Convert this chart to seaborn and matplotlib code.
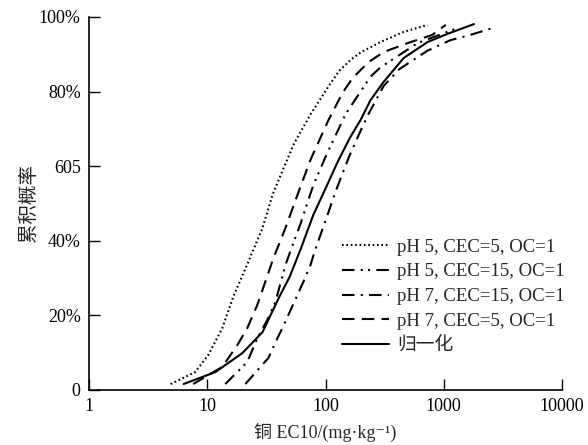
import matplotlib
matplotlib.use("Agg")
import matplotlib.pyplot as plt
import seaborn as sns
import pandas as pd

# values (x = Cu EC10 mg/kg, y = cumulative %)
dotted_x = [4.9, 7.9, 10.2, 13.4, 16.6, 22.2, 29.3, 35.6, 47, 54, 75, 104, 130, 163, 198, 292, 458, 731]
dotted_y = [1.6, 4.8, 9.4, 16.6, 25, 34.3, 43.4, 52.3, 61.5, 66, 74, 81, 85.5, 88.5, 90.5, 93.3, 96, 97.9]

ph5_cec15_x = [14.2, 21.8, 26.5, 32.2, 37.7, 45.8, 53.6, 61.4, 70, 79, 100, 148, 240, 292, 600, 1300]
ph5_cec15_y = [1.6, 7.5, 13.9, 18.8, 23.6, 33.5, 39.5, 44.5, 50, 55, 62.5, 74, 84, 86.5, 93, 97]

ph7_cec15_x = [21, 32.9, 39.2, 43.2, 57.9, 65, 74.6, 82, 94, 106, 121, 139, 158, 198, 231, 310, 420, 731, 1140, 1600, 2760]
ph7_cec15_y = [1.6, 8.6, 13.9, 16.6, 25.5, 29, 33.5, 37.7, 43, 47.7, 53, 58, 62.5, 69.5, 74, 81.5, 86, 91, 93.8, 95, 97.3]

ph7_cec5_x = [7.6, 13.4, 18, 21.8, 26.5, 36.3, 45.8, 57.9, 74.6, 106, 139, 169, 231, 310, 496, 800, 1040]
ph7_cec5_y = [1.6, 6.2, 12.1, 16.6, 22.8, 35.4, 43.4, 52.3, 61.7, 72.4, 79.6, 83.6, 87.9, 90.6, 93, 95.2, 97.9]

norm_x = [6.3, 11.7, 19.8, 29.3, 40, 50, 62, 79, 100, 126, 160, 198, 240, 310, 458, 731, 1080, 1800]
norm_y = [1.6, 4.8, 9.9, 15.5, 24.5, 30.5, 38, 47, 54, 61, 67.5, 72.4, 77.7, 82.6, 89, 93.3, 95.5, 98.1]

labels = ["pH 5, CEC=5, OC=1", "pH 5, CEC=15, OC=1", "pH 7, CEC=15, OC=1",
          "pH 7, CEC=5, OC=1", "归一化"]
xticks = [1, 10, 100, 1000, 10000]
xtick_labels = ["1", "10", "100", "1000", "10000"]
yticks = [0, 20, 40, 60, 80, 100]
ytick_labels = ["0", "20%", "40%", "605", "80%", "100%"]

sns.set_style("ticks")
plt.rcParams["font.family"] = ["Liberation Serif", "Noto Sans CJK SC", "DejaVu Serif"]

series = [
    (dotted_x, dotted_y, (0, (0.8, 1.3)), 1.5),
    (ph5_cec15_x, ph5_cec15_y, (0, (6, 3, 1, 2.5, 1, 3)), 1.5),
    (ph7_cec15_x, ph7_cec15_y, (0, (6, 3, 1, 3)), 1.5),
    (ph7_cec5_x, ph7_cec5_y, (0, (6, 3.5)), 1.5),
    (norm_x, norm_y, "-", 1.5),
]

fig = plt.figure(figsize=(5.88, 4.45), dpi=100)
ax = fig.add_axes([0.1514, 0.1236, 0.8044, 0.8382])

for (xs, ys, ls, lw), lab in zip(series, labels):
    df = pd.DataFrame({"x": xs, "y": ys})
    sns.lineplot(data=df, x="x", y="y", ax=ax, color="black", linestyle=ls,
                 linewidth=lw, label=lab, sort=True)

ax.set_xscale("log")
ax.set_xlim(1, 10000)
ax.set_ylim(0, 100)
ax.set_xticks(xticks)
ax.set_xticklabels(xtick_labels)
ax.minorticks_off()
ax.set_yticks(yticks)
ax.set_yticklabels(ytick_labels)
ax.tick_params(direction="in", length=8, width=1, labelsize=13, pad=6, colors="black")
sns.despine(ax=ax)
for sp in ["left", "bottom"]:
    ax.spines[sp].set_linewidth(1.2)
    ax.spines[sp].set_color("black")

ax.set_xlabel("铜 EC10/(mg·kg⁻¹)", fontsize=13, labelpad=6)
ax.set_ylabel("累积概率", fontsize=14, labelpad=1)

leg = ax.legend(loc="lower right", bbox_to_anchor=(1.042, 0.05), frameon=False,
                fontsize=13.5, handlelength=2.5, handletextpad=0.45, labelspacing=0.4)

fig.savefig("out.png", dpi=100)
